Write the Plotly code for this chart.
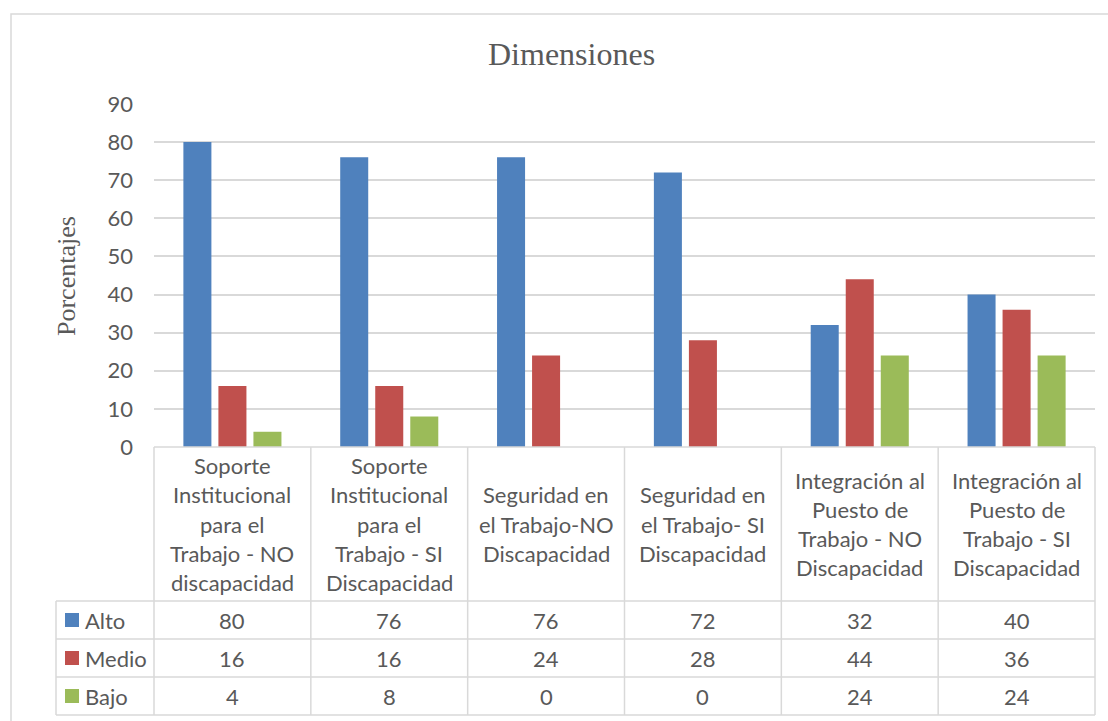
import plotly.graph_objects as go

# ---- data ----
categories = [
    "Soporte<br>Institucional<br>para el<br>Trabajo - NO<br>discapacidad",
    "Soporte<br>Institucional<br>para el<br>Trabajo - SI<br>Discapacidad",
    "Seguridad en<br>el Trabajo-NO<br>Discapacidad",
    "Seguridad en<br>el Trabajo- SI<br>Discapacidad",
    "Integración al<br>Puesto de<br>Trabajo - NO<br>Discapacidad",
    "Integración al<br>Puesto de<br>Trabajo - SI<br>Discapacidad",
]
series_names = ["Alto", "Medio", "Bajo"]
alto = [80, 76, 76, 72, 32, 40]
medio = [16, 16, 24, 28, 44, 36]
bajo = [4, 8, 0, 0, 24, 24]
y_ticks = [0, 10, 20, 30, 40, 50, 60, 70, 80, 90]

# ---- styling ----
W, H = 1108, 721
L, R, T, B = 154, 1095, 104, 447          # plot-area edges in pixels
colors = ["#4F81BD", "#C0504D", "#9BBB59"]
grid = "#D9D9D9"
txt = "#595959"
sans = "Lato, 'Open Sans', sans-serif"
serif = "'Liberation Serif', 'Times New Roman', serif"
fs = 22
line_h = 29.2

def px_x(px):
    return (px - L) / (R - L)

def px_y(py):
    return (B - py) / (B - T)

fig = go.Figure()
for name, vals, col in zip(series_names, [alto, medio, bajo], colors):
    fig.add_trace(go.Bar(x=list(range(len(categories))), y=vals, name=name,
                         marker=dict(color=col, line=dict(width=0))))

shapes = []
anns = []

# chart frame
shapes.append(dict(type="rect", xref="paper", yref="paper",
                   x0=px_x(11), x1=px_x(1125), y0=px_y(14), y1=px_y(735),
                   line=dict(color=grid, width=1.5)))

# data table: row and column rules
row_edges = [601, 639, 677, 715]
col_edges = [L + i * (R - L) / len(categories) for i in range(len(categories) + 1)]
shapes.append(dict(type="line", xref="paper", yref="paper",
                   x0=px_x(L), x1=px_x(R), y0=px_y(B), y1=px_y(B),
                   line=dict(color=grid, width=1.5)))
for ry in row_edges:
    shapes.append(dict(type="line", xref="paper", yref="paper",
                       x0=px_x(56), x1=px_x(R), y0=px_y(ry), y1=px_y(ry),
                       line=dict(color=grid, width=1.5)))
shapes.append(dict(type="line", xref="paper", yref="paper",
                   x0=px_x(56), x1=px_x(56), y0=px_y(601), y1=px_y(715),
                   line=dict(color=grid, width=1.5)))
for cx in col_edges:
    shapes.append(dict(type="line", xref="paper", yref="paper",
                       x0=px_x(cx), x1=px_x(cx), y0=px_y(B), y1=px_y(715),
                       line=dict(color=grid, width=1.5)))

# category headers, one annotation per wrapped line, centred in the header cell
header_mid = (B + row_edges[0]) / 2
for i, cat in enumerate(categories):
    lines = cat.split("<br>")
    first = header_mid - (len(lines) - 1) * line_h / 2
    for k, ln in enumerate(lines):
        anns.append(dict(x=i, y=px_y(first + k * line_h), xref="x", yref="paper",
                         text=ln, showarrow=False, xanchor="center", yanchor="middle",
                         font=dict(family=sans, size=fs, color=txt)))

# series rows with legend keys
for r, (name, vals, col) in enumerate(zip(series_names, [alto, medio, bajo], colors)):
    yc = (row_edges[r] + row_edges[r + 1]) / 2
    shapes.append(dict(type="rect", xref="paper", yref="paper",
                       x0=px_x(65), x1=px_x(79), y0=px_y(yc - 7), y1=px_y(yc + 7),
                       fillcolor=col, line=dict(width=0)))
    anns.append(dict(x=px_x(83), y=px_y(yc), xref="paper", yref="paper", text=name,
                     showarrow=False, xanchor="left", yanchor="middle",
                     font=dict(family=sans, size=fs, color=txt)))
    for i, v in enumerate(vals):
        anns.append(dict(x=i, y=px_y(yc), xref="x", yref="paper", text=str(v),
                         showarrow=False, xanchor="center", yanchor="middle",
                         font=dict(family=sans, size=fs, color=txt)))

# titles
anns.append(dict(x=px_x(571), y=px_y(54), xref="paper", yref="paper", text="Dimensiones",
                 showarrow=False, xanchor="center", yanchor="middle",
                 font=dict(family=serif, size=32, color=txt)))
anns.append(dict(x=px_x(66), y=px_y(276), xref="paper", yref="paper", text="Porcentajes",
                 showarrow=False, xanchor="center", yanchor="middle", textangle=-90,
                 font=dict(family=serif, size=26, color=txt)))

fig.update_layout(
    width=W, height=H,
    margin=dict(l=L, r=W - R, t=T, b=H - B, pad=0),
    paper_bgcolor="white", plot_bgcolor="white",
    barmode="group", bargap=0.33, bargroupgap=0.2,
    showlegend=False,
    shapes=shapes, annotations=anns,
    xaxis=dict(range=[-0.5, len(categories) - 0.5], showticklabels=False,
               showgrid=False, zeroline=False, showline=False, ticks=""),
    yaxis=dict(range=[0, 90], tickvals=y_ticks, showgrid=True, gridcolor=grid,
               gridwidth=1.5, zeroline=False, showline=False, ticks="",
               ticklabelstandoff=20,
               tickfont=dict(family=sans, size=fs, color=txt)),
)

fig.write_html("out.html")
